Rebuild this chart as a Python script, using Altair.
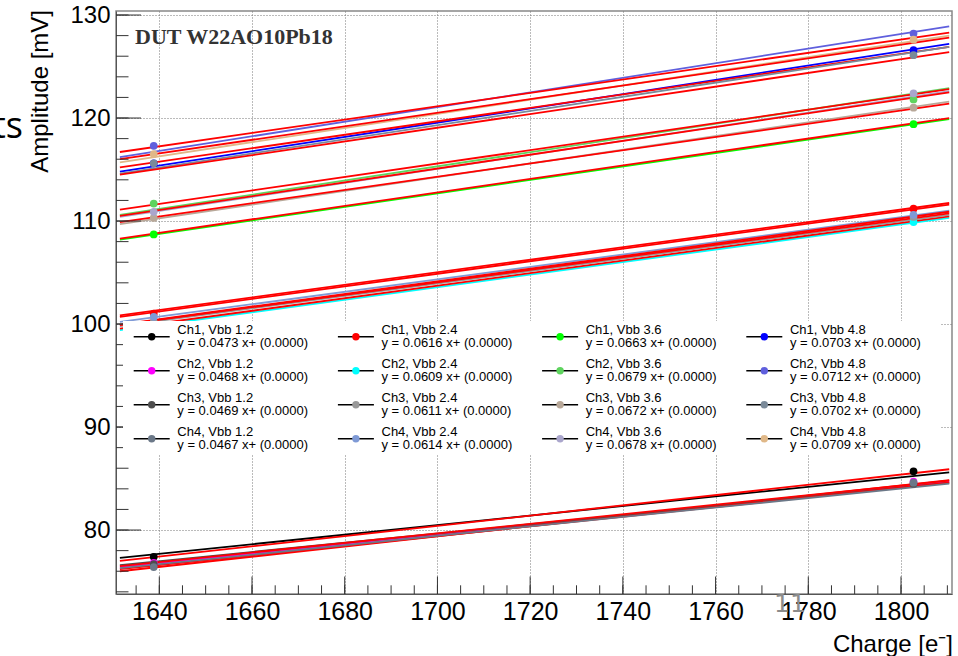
import altair as alt
import pandas as pd

# ---------------- data ----------------
VBB = ["1.2", "2.4", "3.6", "4.8"]
CHANNELS = ["Ch1", "Ch2", "Ch3", "Ch4"]
SLOPES = [
    [0.0473, 0.0468, 0.0469, 0.0467],
    [0.0616, 0.0609, 0.0611, 0.0614],
    [0.0663, 0.0679, 0.0672, 0.0678],
    [0.0703, 0.0712, 0.0702, 0.0709],
]
COLORS = [
    ["#000000", "#ff00ff", "#4d4d4d", "#6b7888"],
    ["#ff0000", "#00ffff", "#999999", "#7f9ad6"],
    ["#00ff00", "#5ed45e", "#b8a899", "#aaa6cc"],
    ["#0000ff", "#5f5fdd", "#7a8a99", "#e0b888"],
]
FIT_COLOR = "#ff0000"
CHARGE = [1638.8, 1802.7]
AMP_LOW = [[77.4, 76.8, 76.7, 76.4], [101.0, 99.9, 100.2, 100.7],
           [108.7, 111.7, 110.3, 110.9], [115.6, 117.3, 115.6, 116.5]]
AMP_HIGH = [[85.7, 84.7, 84.5, 84.6], [111.2, 109.9, 110.4, 110.6],
            [119.4, 121.8, 121.0, 122.4], [126.6, 128.2, 126.1, 127.6]]
LINE_X = [1631.5, 1810.4]
LINE_START = [[77.3, 76.4, 76.6, 76.3], [100.7, 99.4, 99.8, 100.2],
              [108.2, 110.6, 109.7, 110.4], [114.8, 116.2, 114.6, 115.7]]
LINE_END = [[85.6, 84.7, 84.6, 84.5], [111.6, 110.3, 110.6, 111.0],
            [119.9, 122.9, 121.6, 122.6], [127.2, 128.9, 126.9, 128.0]]
FIT_START = [[77.0, 76.0, 76.2, 76.5], [100.85, 99.55, 99.9, 99.95],
             [108.3, 111.1, 109.9, 110.5], [115.2, 116.7, 114.5, 116.0]]
FIT_END = [[85.9, 84.85, 84.6, 84.8], [111.75, 110.45, 110.75, 110.9],
           [120.0, 122.8, 121.4, 122.5], [126.9, 128.3, 126.4, 127.8]]

X_MAJOR = [1640, 1660, 1680, 1700, 1720, 1740, 1760, 1780, 1800]
X_MINOR = list(range(1635, 1811, 5))
Y_MAJOR = [80, 90, 100, 110, 120, 130]
Y_MINOR = list(range(74, 131, 2))

# ---------------- layout ----------------
XMIN, XMAX = 1630.66, 1811.0
YMIN, YMAX = 73.79, 130.39
W, H = 836, 583
FONT = "Liberation Sans"


def px_x(p):
    return XMIN + p / W * (XMAX - XMIN)


def px_y(p):
    return YMAX - p / H * (YMAX - YMIN)


keys, key_cols = [], []
pts, lines, leg = [], [], []
for vi, v in enumerate(VBB):
    for ci, ch in enumerate(CHANNELS):
        s = f"{ch}, Vbb {v}"
        f = s + " fit"
        keys += [s, f]
        key_cols += [COLORS[vi][ci], FIT_COLOR]
        pts.append({"series": s, "charge": CHARGE[0], "amp": AMP_LOW[vi][ci]})
        pts.append({"series": s, "charge": CHARGE[1], "amp": AMP_HIGH[vi][ci]})
        lines.append({"key": s, "charge": LINE_X[0], "amp": LINE_START[vi][ci]})
        lines.append({"key": s, "charge": LINE_X[1], "amp": LINE_END[vi][ci]})
        lines.append({"key": f, "charge": LINE_X[0], "amp": FIT_START[vi][ci]})
        lines.append({"key": f, "charge": LINE_X[1], "amp": FIT_END[vi][ci]})
        mx = 35.7 + 204.2 * vi
        my = 325.7 + 34 * ci
        leg.append({
            "series": s,
            "mx": px_x(mx), "x0": px_x(mx - 18), "x1": px_x(mx + 18),
            "my": px_y(my), "tx": px_x(mx + 25.6),
            "ty1": px_y(my - 2.7), "ty2": px_y(my + 10.3),
            "t1": s, "t2": f"y = {SLOPES[vi][ci]:.4f} x+ (0.0000)",
        })

pts_df = pd.DataFrame(pts)
lines_df = pd.DataFrame(lines)
leg_df = pd.DataFrame(leg)

xscale = alt.Scale(domain=[XMIN, XMAX], nice=False, zero=False)
yscale = alt.Scale(domain=[YMIN, YMAX], nice=False, zero=False)
cscale = alt.Scale(domain=keys, range=key_cols)

xaxis = alt.Axis(values=X_MAJOR, title=None, tickSize=0, labelFontSize=25, labelFont=FONT,
                 labelColor="black", labelPadding=5, grid=True, gridDash=[1, 2],
                 gridColor="#777777", gridWidth=1, domainColor="#555555", format="d",
                 labelFlush=False, labelOverlap=False)
yaxis = alt.Axis(values=Y_MAJOR, title=None, tickSize=0, labelFontSize=24, labelFont=FONT,
                 labelColor="black", labelPadding=6, grid=True, gridDash=[1, 2],
                 gridColor="#777777", gridWidth=1, domainColor="#555555", format="d",
                 labelFlush=False, labelOverlap=False)

X = lambda f: alt.X(f, type="quantitative", scale=xscale, axis=xaxis)
Y = lambda f: alt.Y(f, type="quantitative", scale=yscale, axis=yaxis)

all_lines = alt.Chart(lines_df).mark_line(strokeWidth=1.8).encode(
    x=X("charge"), y=Y("amp"),
    color=alt.Color("key:N", scale=cscale, legend=None),
    detail="key:N",
)
points = alt.Chart(pts_df).mark_circle(size=60, opacity=1).encode(
    x=X("charge"), y=Y("amp"),
    color=alt.Color("series:N", scale=cscale, legend=None),
)

xt_major = alt.Chart(pd.DataFrame({"t": X_MAJOR})).mark_rule(color="#333333", strokeWidth=1).encode(
    x=X("t"), y=alt.value(H), y2=alt.value(H - 17.5))
xt_minor = alt.Chart(pd.DataFrame({"t": X_MINOR})).mark_rule(color="#333333", strokeWidth=1).encode(
    x=X("t"), y=alt.value(H), y2=alt.value(H - 8.7))
yt_major = alt.Chart(pd.DataFrame({"t": Y_MAJOR})).mark_rule(color="#333333", strokeWidth=1).encode(
    y=Y("t"), x=alt.value(0), x2=alt.value(25))
yt_minor = alt.Chart(pd.DataFrame({"t": Y_MINOR})).mark_rule(color="#333333", strokeWidth=1).encode(
    y=Y("t"), x=alt.value(0), x2=alt.value(12.5))

one = pd.DataFrame({"a": [0]})
leg_box = alt.Chart(one).mark_rect(color="white").encode(
    x=alt.value(7), x2=alt.value(824), y=alt.value(310), y2=alt.value(444))
leg_lines = alt.Chart(leg_df).mark_rule(color="black", strokeWidth=1.5).encode(
    x=X("x0"), x2="x1", y=Y("my"))
leg_marks = alt.Chart(leg_df).mark_circle(size=55, opacity=1).encode(
    x=X("mx"), y=Y("my"), color=alt.Color("series:N", scale=cscale, legend=None))
leg_t1 = alt.Chart(leg_df).mark_text(align="left", baseline="alphabetic", font=FONT,
                                     fontSize=13, color="black").encode(
    x=X("tx"), y=Y("ty1"), text="t1:N")
leg_t2 = alt.Chart(leg_df).mark_text(align="left", baseline="alphabetic", font=FONT,
                                     fontSize=13, color="black").encode(
    x=X("tx"), y=Y("ty2"), text="t2:N")

dut = alt.Chart(one).mark_text(text="DUT W22AO10Pb18", font="Liberation Serif", fontWeight="bold",
                               fontSize=22, color="#333333", align="left",
                               baseline="alphabetic").encode(x=alt.value(19), y=alt.value(33))
ytitle = alt.Chart(one).mark_text(text="Amplitude [mV]", font=FONT, fontSize=24, color="black",
                                  align="right", baseline="middle", angle=270).encode(
    x=alt.value(-75), y=alt.value(-1))
xtitle = alt.Chart(one).mark_text(text="Charge [e\u207b]", font=FONT, fontSize=24, color="black",
                                  align="right", baseline="alphabetic").encode(
    x=alt.value(837), y=alt.value(641))
ts = alt.Chart(one).mark_text(text="ts", font="Open Sans", fontSize=36, color="black",
                              align="right", baseline="alphabetic").encode(
    x=alt.value(-93), y=alt.value(127))
page = alt.Chart(one).mark_text(text="11", font="DejaVu Sans", fontSize=25, color="#8c8c8c",
                                align="center", baseline="alphabetic").encode(
    x=alt.value(674), y=alt.value(601))

chart = alt.layer(
    all_lines, points,
    xt_major, xt_minor, yt_major, yt_minor,
    leg_box, leg_lines, leg_marks, leg_t1, leg_t2,
    dut, ytitle, xtitle, ts, page,
).properties(
    width=W, height=H,
    padding={"left": 116, "top": 11, "right": 6, "bottom": 62},
    autosize=alt.AutoSizeParams(type="none"),
    background="white",
).configure_view(stroke="#888888", strokeWidth=1.5)

chart.save("out.html", embed_options={"renderer": "svg", "actions": False})
